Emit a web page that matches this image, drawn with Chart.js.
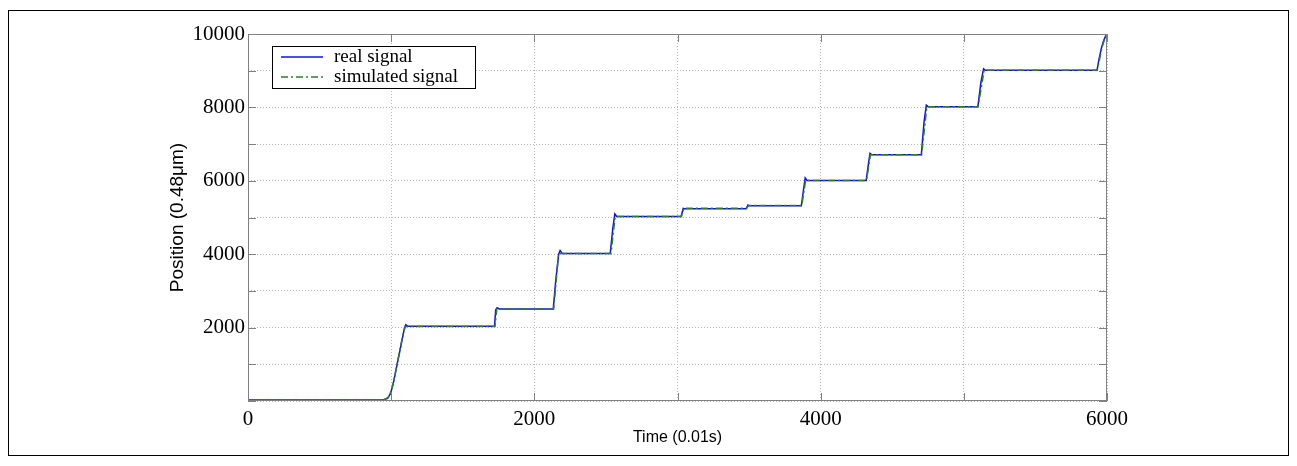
<!DOCTYPE html>
<html lang="en">
<head>
  <meta charset="UTF-8">
  <title>Position vs Time</title>
  <style>
    body {
      margin: 0;
      background: #fff;
    }
    #frame {
      position: absolute;
      left: 8px;
      top: 10px;
      width: 1279px;
      height: 444px;
      border: 1px solid #000;
    }
    #chart {
      position: absolute;
      left: 0;
      top: 0;
    }
  </style>
</head>
<body>
  <div id="frame"></div>
  <canvas id="chart" width="1297" height="466"></canvas>

  <script src="https://cdn.jsdelivr.net/npm/chart.js"></script>
  <script>
    // Measured position, time in 0.01 s
    const realTime = [0, 940, 975, 995, 1015, 1035, 1055, 1075, 1093, 1102, 1115, 1722, 1730, 1740, 1755,
      2132, 2150, 2170, 2180, 2195, 2530, 2548, 2562, 2575, 3025, 3040, 3050, 3480, 3492, 3500,
      3865, 3880, 3892, 3905, 4318, 4335, 4345, 4358, 4703, 4722, 4738, 4750, 5098, 5120, 5138, 5150,
      5930, 5945, 5960, 5975, 5990, 6000];
    const realPos = [30, 30, 70, 200, 480, 870, 1250, 1640, 1990, 2080, 2040, 2040, 2480, 2540, 2510,
      2510, 3300, 4000, 4100, 4020, 4020, 4700, 5100, 5030, 5030, 5250, 5240, 5240, 5340, 5320,
      5320, 5750, 6080, 6010, 6010, 6500, 6750, 6710, 6710, 7600, 8060, 8020, 8020, 8700, 9050, 9010,
      9010, 9330, 9600, 9800, 9940, 10000];

    // Simulated position
    const simTime = [0, 950, 985, 1005, 1025, 1045, 1065, 1085, 1100, 1725, 1738, 2135, 2170, 2535, 2565,
      3028, 3045, 3483, 3498, 3868, 3895, 4320, 4348, 4705, 4742, 5100, 5142, 5932, 5948, 5962, 5977, 5991, 6000];
    const simPos = [30, 30, 120, 330, 680, 1080, 1480, 1860, 2030, 2030, 2510, 2510, 4020, 4020, 5030,
      5030, 5250, 5250, 5330, 5330, 6010, 6010, 6710, 6710, 8020, 8020, 9010, 9010, 9310, 9580, 9790, 9940, 10000];

    const xTicks = [0, 2000, 4000, 6000];
    const yTicks = [2000, 4000, 6000, 8000, 10000];

    const toPoints = (xs, ys) => xs.map((x, i) => ({ x: x, y: ys[i] }));

    // axis box, inward tick marks and the boxed legend
    const framePlugin = {
      id: 'frame',
      afterDraw(chart) {
        const { ctx, chartArea: a, scales } = chart;
        ctx.save();
        ctx.strokeStyle = '#808080';
        ctx.lineWidth = 1;
        ctx.strokeRect(a.left + 0.5, a.top + 0.5, a.right - a.left - 1, a.bottom - a.top - 1);
        ctx.beginPath();
        scales.x.ticks.forEach(t => {
          const px = Math.round(scales.x.getPixelForValue(t.value)) + 0.5;
          ctx.moveTo(px, a.bottom); ctx.lineTo(px, a.bottom - 8);
          ctx.moveTo(px, a.top); ctx.lineTo(px, a.top + 8);
        });
        scales.y.ticks.forEach(t => {
          const py = Math.round(scales.y.getPixelForValue(t.value)) + 0.5;
          ctx.moveTo(a.left, py); ctx.lineTo(a.left + 8, py);
          ctx.moveTo(a.right, py); ctx.lineTo(a.right - 8, py);
        });
        ctx.stroke();

        // legend
        const lx = a.left + 24, ly = a.top + 12, lw = 203, lh = 42;
        ctx.fillStyle = '#fff';
        ctx.fillRect(lx, ly, lw, lh);
        ctx.strokeStyle = '#000';
        ctx.strokeRect(lx + 0.5, ly + 0.5, lw, lh);
        ctx.font = '19px "Liberation Serif", "Times New Roman", serif';
        ctx.textBaseline = 'middle';
        chart.data.datasets.forEach((ds, i) => {
          const rowY = ly + 11 + i * 20;
          ctx.strokeStyle = ds.borderColor;
          ctx.lineWidth = 1.5;
          ctx.setLineDash(ds.borderDash || []);
          ctx.beginPath();
          ctx.moveTo(lx + 9, rowY);
          ctx.lineTo(lx + 51, rowY);
          ctx.stroke();
          ctx.setLineDash([]);
          ctx.fillStyle = '#000';
          ctx.fillText(ds.label, lx + 62, rowY);
        });
        ctx.restore();
      }
    };

    new Chart(document.getElementById('chart'), {
      type: 'line',
      data: {
        datasets: [
          {
            label: 'real signal',
            data: toPoints(realTime, realPos),
            borderColor: '#1010ee',
            borderWidth: 1.5,
            pointRadius: 0,
            order: 1
          },
          {
            label: 'simulated signal',
            data: toPoints(simTime, simPos),
            borderColor: '#2e7d2e',
            borderDash: [7, 3, 2, 3],
            borderWidth: 1.5,
            pointRadius: 0,
            order: 0
          }
        ]
      },
      options: {
        responsive: false,
        animation: false,
        layout: { padding: { top: 34, right: 190, left: 0, bottom: 0 } },
        plugins: {
          legend: { display: false },
          tooltip: { enabled: false }
        },
        scales: {
          x: {
            type: 'linear',
            min: 0,
            max: 6000,
            afterFit: s => { s.height = 65; },
            ticks: {
              stepSize: 1000,
              autoSkip: false,
              maxRotation: 0,
              padding: 6,
              color: '#000',
              font: { family: '"Liberation Serif", "Times New Roman", serif', size: 21 },
              callback: v => xTicks.includes(v) ? v : ''
            },
            grid: { color: '#b8b8b8', drawTicks: false },
            border: { display: false, dash: [1, 2] },
            title: {
              display: true,
              text: 'Time (0.01s)',
              color: '#000',
              font: { family: '"Liberation Sans", Arial, sans-serif', size: 16 },
              padding: { top: 0, bottom: 19 }
            }
          },
          y: {
            type: 'linear',
            min: 0,
            max: 10000,
            afterFit: s => { s.width = 248; },
            ticks: {
              stepSize: 1000,
              autoSkip: false,
              padding: 3,
              color: '#000',
              font: { family: '"Liberation Serif", "Times New Roman", serif', size: 21 },
              callback: v => yTicks.includes(v) ? v : ''
            },
            grid: { color: '#b8b8b8', drawTicks: false },
            border: { display: false, dash: [1, 2] },
            title: {
              display: true,
              text: 'Position (0.48μm)',
              color: '#000',
              font: { family: '"Liberation Sans", Arial, sans-serif', size: 19 },
              padding: { top: 166, bottom: 0 }
            }
          }
        }
      },
      plugins: [framePlugin]
    });
  </script>
</body>
</html>
